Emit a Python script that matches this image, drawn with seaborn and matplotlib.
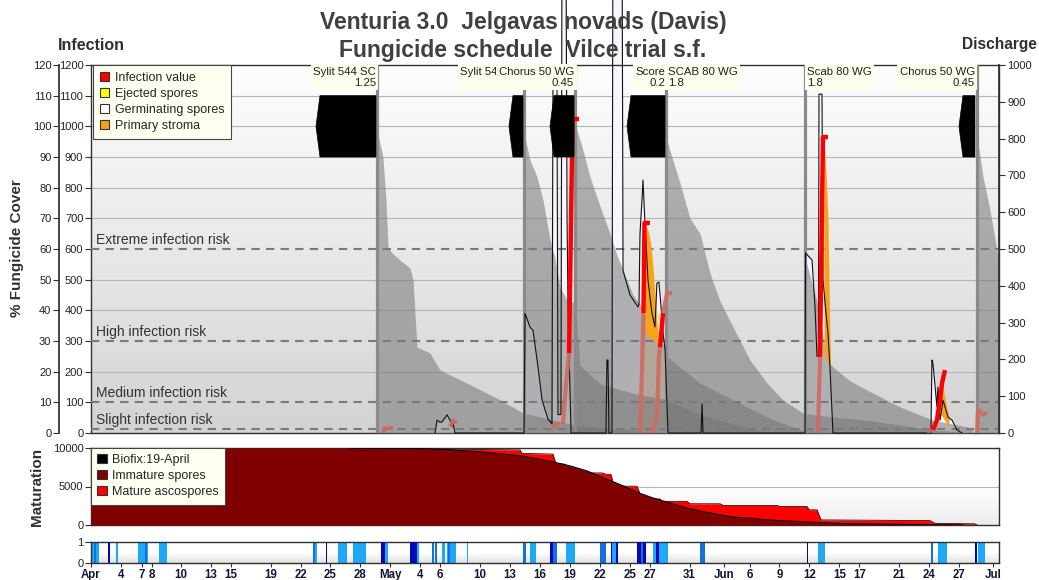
import numpy as np
import matplotlib
matplotlib.use('Agg')
import matplotlib.pyplot as plt
from matplotlib.patches import Patch, Polygon
from matplotlib.colors import LinearSegmentedColormap
import seaborn as sns

sns.set_theme(style='ticks')
plt.rcParams['font.family'] = ['Liberation Sans', 'DejaVu Sans']

# ---------------- data (x = days after 1 April) ----------------
tick_days = [0, 3, 5.1, 6.1, 9, 12, 14, 18, 21, 24, 27, 30, 33, 35, 39, 42, 45, 48, 51, 54, 56,
             60, 63.4, 66, 69, 72, 75, 77, 81, 84, 87, 90.4]
tick_labels = ['Apr', '4', '7', '8', '10', '13', '15', '19', '22', '25', '28', 'May', '4', '6', '10',
               '13', '16', '19', '22', '25', '27', '31', 'Jun', '6', '9', '12', '15', '17', '21',
               '24', '27', 'Jul']

spray_days = [28.66, 43.40, 48.51, 57.63, 71.56, 88.80]
label_texts = ['Sylit 544 SC\n1.25', 'Sylit 544 SC\n1.25', 'Chorus 50 WG\n0.45', 'Score\n0.2',
               'SCAB 80 WG\n1.8', 'Scab 80 WG\n1.8', 'Chorus 50 WG\n0.45']
label_days = [28.56, 43.30, 48.41, 57.53, 57.83, 71.76, 88.59]
label_align = ['right', 'right', 'right', 'right', 'left', 'left', 'right']
block_start = [22.55, 41.89, 46.00, 53.72, 86.99]
block_end = [28.56, 43.30, 48.41, 57.53, 88.59]

# fungicide cover (%) after each spray
cov1_d = [28.66, 29.26, 29.56, 29.77, 30.17, 30.97, 31.97, 32.27, 32.67, 33.97, 34.98, 37.68, 40.99, 43.30, 48.51, 56.02]
cov1_v = [98.8, 90.0, 76.0, 60.6, 58.7, 56.4, 53.8, 50.0, 28.0, 26.1, 20.5, 16.3, 10.8, 6.5, 2.6, 0.3]
cov2_d = [43.40, 44.00, 44.70, 45.30, 46.00, 46.50, 47.00, 47.71, 48.51, 49.01, 51.01, 54.32, 57.53, 61.04, 67.05]
cov2_v = [97.8, 89.0, 83.5, 76.0, 63.0, 57.0, 47.6, 43.4, 42.4, 22.0, 16.0, 13.0, 11.0, 6.0, 0.5]
cov3_d = [48.51, 48.71, 49.31, 50.01, 51.01, 52.01, 52.72, 53.32, 54.32, 55.02, 56.02, 57.53, 57.73, 61.04, 64.34, 67.75, 71.06, 74.06]
cov3_v = [99.0, 98.8, 92.2, 83.5, 74.0, 65.0, 58.0, 53.0, 45.0, 42.0, 35.0, 28.0, 24.8, 16.3, 10.8, 5.2, 1.0, 0.0]
cov4_d = [57.63, 57.73, 58.03, 59.03, 60.03, 61.04, 62.04, 63.04, 64.34, 66.04, 67.75, 69.35, 71.36, 74.36, 77.77, 81.08, 84.38, 87.79]
cov4_v = [96.0, 95.5, 92.0, 81.5, 70.0, 65.0, 52.0, 43.0, 34.6, 23.8, 16.3, 10.8, 6.5, 5.2, 4.2, 2.6, 1.0, 0.3]
cov5_d = [71.56, 71.66, 72.76, 73.76, 74.36, 76.07, 77.77, 81.08, 84.38, 88.39]
cov5_v = [57.0, 56.0, 43.0, 24.0, 21.5, 17.0, 14.0, 8.5, 4.2, 1.6]
cov6_d = [88.80, 89.40, 90.10, 90.90, 91.0]
cov6_v = [97.0, 83.5, 72.7, 57.4, 56.0]

# germinating spores
germ_d = [34.48, 34.68, 34.98, 35.18, 35.68, 35.98, 36.18, 36.28, 36.48,
          43.40, 43.50, 44.00, 44.30, 44.80, 45.20, 45.80, 46.20, 46.30, 46.70, 46.80, 47.10, 47.20, 47.61, 47.71, 47.81, 48.11,
          51.61, 51.71, 51.81, 51.91, 52.21, 52.31, 53.22, 53.32, 54.02, 54.82, 54.92, 55.02, 55.22, 55.32, 55.52, 55.82,
          56.22, 56.52, 56.72, 56.92, 57.13, 57.33, 57.53, 57.83,
          61.14, 61.24, 61.34,
          71.56, 71.61, 72.26, 72.56, 72.76, 72.91, 72.96, 73.26, 73.36, 73.66, 73.86, 74.06, 74.36,
          84.18, 84.28, 84.38, 84.78, 84.88, 85.09, 85.39, 85.89, 86.29, 86.79, 87.29]
germ_v = [0, 42, 35, 36, 59, 42, 20, 33, 0,
          0, 390, 345, 335, 215, 108, 45, 30, 1150, 1150, 60, 60, 1550, 1550, 700, 400, 0,
          0, 238, 238, 0, 0, 1700, 1700, 530, 450, 411, 420, 650, 760, 825, 685, 499,
          391, 346, 489, 492, 411, 326, 271, 0,
          0, 95, 0,
          0, 587, 564, 411, 250, 250, 1105, 1105, 500, 391, 326, 215, 0,
          0, 238, 228, 85, 150, 42, 107, 52, 42, 10, 0]

# ejected spores
eject_d = [55.02, 55.47, 56.02, 56.52, 57.03, 57.33, 57.53]
eject_v = [380, 450, 460, 420, 380, 330, 0]

# primary stroma (low / high)
stromaB_d = [55.52, 55.72, 55.92, 56.12, 56.32, 56.52, 56.72, 56.85]
stromaB_lo = [330, 320, 315, 310, 305, 300, 300, 300]
stromaB_hi = [672, 668, 650, 610, 540, 450, 360, 310]
stromaC_d = [73.46, 73.66, 73.86, 74.01, 74.11]
stromaC_lo = [260, 240, 230, 220, 215]
stromaC_hi = [950, 850, 700, 400, 230]
stromaD_d = [85.19, 85.39, 85.59, 85.79, 85.99]
stromaD_lo = [60, 50, 40, 30, 20]
stromaD_hi = [170, 150, 110, 80, 50]

# infection value
infA_d, infA_v = [47.91, 48.26, 48.91], [261, 1024, 1024]
infB1_d, infB1_v = [55.37, 55.47, 56.02], [391, 685, 685]
infB2_d, infB2_v = [57.03, 57.33], [280, 391]
infC_d, infC_v = [73.06, 73.36, 73.86], [248, 965, 965]
infD_d, infD_v = [84.38, 84.78, 85.09, 85.29, 85.59], [10, 42, 108, 163, 205]
old1_d, old1_v = [29.26, 29.46, 30.27], [0, 16, 16]
old2_d, old2_v = [35.98, 36.28, 36.68], [20, 40, 33]
old3_d, old3_v = [46.30, 46.60, 47.00], [15, 30, 30]
old4_d, old4_v = [47.30, 47.61, 47.91], [30, 160, 261]
old5_d, old5_v = [55.02, 55.22, 55.37], [0, 200, 391]
old6_d, old6_v = [56.22, 56.52, 56.72, 56.92, 57.03], [0, 40, 45, 250, 280]
old7_d, old7_v = [57.33, 57.73, 58.23], [391, 456, 456]
old8_d, old8_v = [72.86, 73.06], [0, 248]
old9_d, old9_v = [83.78, 84.38], [5, 10]
old10_d, old10_v = [88.80, 88.90, 89.40, 89.80], [0, 75, 60, 65]

risk_levels = [600, 300, 100, 12]
risk_names = ['Extreme infection risk', 'High infection risk', 'Medium infection risk', 'Slight infection risk']

# maturation
imm_d = [0, 25.96, 32.97, 35.68, 38.99, 42.99, 46.30, 48.01, 49.71, 51.31, 53.02, 54.72, 56.32, 58.03,
         59.73, 61.34, 63.04, 64.34, 66.04, 67.75, 71.06, 74.36, 77.77, 81.08, 84.38, 87.39]
imm_v = [10000, 10000, 9900, 9800, 9500, 9000, 8200, 7680, 7020, 6140, 5260, 4250, 3510, 2850,
         2190, 1750, 1320, 1030, 880, 660, 440, 220, 130, 80, 40, 0]
mat_d = [0, 32.97, 35.68, 42.99, 43.19, 46.30, 46.60, 47.50, 47.81, 51.31, 51.61, 52.11, 52.41, 54.72, 55.12,
         55.72, 56.02, 57.03, 57.23, 59.73, 60.03, 63.04, 63.34, 68.75, 69.05, 71.76, 71.96, 72.76,
         73.16, 84.08, 84.58, 88.59, 88.80]
mat_v = [10000, 9950, 9850, 9750, 9300, 9210, 7900, 7900, 6800, 6750, 6580, 6580, 5040, 5040, 3720,
         3720, 3380, 3380, 3070, 3070, 2760, 2760, 2540, 2540, 2410, 2410, 1970, 1970,
         660, 570, 220, 150, 0]

# leaf wetness periods
wet_light = [(0.00, 0.80), (2.51, 2.66), (4.71, 5.71), (6.81, 7.62), (22.25, 22.65), (24.75, 25.66),
             (26.26, 27.56), (29.46, 29.77), (32.67, 32.87), (35.18, 35.48), (35.68, 36.58), (37.68, 37.78),
             (44.00, 44.60), (47.61, 48.51), (52.11, 52.81), (56.32, 57.83), (72.86, 73.56),
             (84.88, 85.79), (88.90, 89.60)]
wet_mid = [(0.35, 0.55), (5.41, 5.61), (22.25, 22.40), (34.18, 34.38), (34.48, 34.68), (35.78, 35.93),
           (43.30, 43.60), (46.30, 46.70), (51.01, 51.61), (55.12, 55.32), (61.04, 61.54), (84.18, 84.38)]
wet_dark = [(1.70, 1.90), (23.55, 23.70), (29.06, 29.46), (31.97, 32.67), (46.00, 46.30), (52.11, 52.26),
            (52.61, 52.81), (54.72, 55.12), (55.32, 55.62), (56.62, 56.92), (71.76, 71.86), (88.59, 88.80)]

# ---------------- figure ----------------
fig = plt.figure(figsize=(10.39, 5.80), dpi=100)
L, W = 91 / 1039, 908 / 1039
ax = fig.add_axes([L, 147 / 580, W, 368 / 580])
ax_m = fig.add_axes([L, 55 / 580, W, 77 / 580])
ax_w = fig.add_axes([L, 16.7 / 580, W, 21.6 / 580])

TXT = '#222222'
SP = '#303030'

# background gradient
bg = LinearSegmentedColormap.from_list('bg', ['#d3d3d3', '#fefefe'])
ax.imshow(np.linspace(0, 1, 256).reshape(-1, 1), extent=[0, 91, 0, 1200], origin='lower',
          cmap=bg, aspect='auto', zorder=0)

for lev in range(200, 1200, 100):
    if lev not in (300, 600):
        ax.axhline(lev, color='#b5b5b5', lw=0.8, zorder=1)

# germinating fill and ejected spores (beneath cover)
ax.fill_between(germ_d, 0, germ_v, color='#f7f5fd', lw=0, zorder=2, clip_on=False)
ax.fill_between(eject_d, 0, eject_v, color='#fde3c8', lw=0, zorder=2.5)

# fungicide cover on % scale
ax_pct = ax.twinx()
for cd, cv in [(cov1_d, cov1_v), (cov2_d, cov2_v), (cov3_d, cov3_v), (cov4_d, cov4_v),
               (cov5_d, cov5_v), (cov6_d, cov6_v)]:
    ax.fill_between(cd, 0, cv, color='#767676', alpha=0.55, lw=0, zorder=3,
                    transform=ax_pct.transData)

for lev, nm in zip(risk_levels, risk_names):
    ax.axhline(lev, color='#7a7a7a', lw=1.5, dashes=(4, 3), zorder=3.5)
    ax.text(0.5, lev + 6, nm, fontsize=10, color='#333333', va='bottom', ha='left', zorder=3.6)

for sd in spray_days:
    ax.axvline(sd, color='#8a8a8a', lw=2.3, zorder=4)

for sd_, lo, hi in [(stromaB_d, stromaB_lo, stromaB_hi), (stromaC_d, stromaC_lo, stromaC_hi),
                    (stromaD_d, stromaD_lo, stromaD_hi)]:
    ax.fill_between(sd_, lo, hi, color='#f5a318', lw=0, zorder=4.4)

sns.lineplot(x=germ_d, y=germ_v, ax=ax, color='#111111', lw=0.8, sort=False, estimator=None,
             zorder=4.5, clip_on=False)

for od, ov in [(old1_d, old1_v), (old2_d, old2_v), (old3_d, old3_v), (old4_d, old4_v), (old5_d, old5_v),
               (old6_d, old6_v), (old7_d, old7_v), (old8_d, old8_v), (old9_d, old9_v), (old10_d, old10_v)]:
    sns.lineplot(x=od, y=ov, ax=ax, color='#cf6a62', lw=3.0, sort=False, estimator=None, zorder=4.8,
                 alpha=0.9, solid_capstyle='butt')
for idd, iv in [(infA_d, infA_v), (infB1_d, infB1_v), (infB2_d, infB2_v), (infC_d, infC_v), (infD_d, infD_v)]:
    sns.lineplot(x=idd, y=iv, ax=ax, color='#ff0000', lw=3.2, sort=False, estimator=None, zorder=5,
                 solid_capstyle='butt')

for s, e in zip(block_start, block_end):
    ax.add_patch(Polygon([(s, 1000), (s + 0.4, 1100), (e, 1100), (e, 900), (s + 0.4, 900)],
                         closed=True, fc='black', ec='black', lw=0.5, zorder=6))

for d, t, al in zip(label_days, label_texts, label_align):
    ax.text(d, 1195, t, ha=al, va='top', fontsize=8.2, color='#202020', multialignment=al,
            linespacing=1.15, zorder=7,
            bbox=dict(boxstyle='square,pad=0.22', fc='#fdfdee', ec='none'))

ax.set_xlim(0, 91)
ax.set_ylim(0, 1200)
ax.set_yticks(range(0, 1201, 100))
ax.tick_params(axis='y', direction='out', length=4, width=0.8, labelsize=8, pad=1.5, colors=SP,
               labelcolor=TXT)
ax.tick_params(axis='x', bottom=False, labelbottom=False)
for sp in ax.spines.values():
    sp.set_color(SP)
    sp.set_linewidth(1.0)

ax_pct.set_ylim(0, 120)
ax_pct.yaxis.set_ticks_position('left')
ax_pct.yaxis.set_label_position('left')
ax_pct.spines['left'].set_position(('outward', 23))
ax_pct.spines['left'].set_visible(True)
ax_pct.spines['left'].set_color(SP)
for k in ('right', 'top', 'bottom'):
    ax_pct.spines[k].set_visible(False)
ax_pct.set_yticks(range(0, 121, 10))
ax_pct.tick_params(axis='y', direction='out', length=4, width=0.8, labelsize=8, pad=1.5, colors=SP,
                   labelcolor=TXT)

ax_dis = ax.twinx()
ax_dis.set_ylim(0, 1000)
ax_dis.set_yticks(range(0, 1001, 100))
for k in ('left', 'top', 'bottom'):
    ax_dis.spines[k].set_visible(False)
ax_dis.spines['right'].set_color(SP)
ax_dis.tick_params(axis='y', direction='out', length=4, width=0.8, labelsize=8, pad=2, colors=SP,
                   labelcolor=TXT)

leg1 = ax.legend(handles=[Patch(fc='#ff0000', ec='#333333', lw=0.8, label='Infection value'),
                          Patch(fc='#ffff00', ec='#333333', lw=0.8, label='Ejected spores'),
                          Patch(fc='#ffffff', ec='#333333', lw=0.8, label='Germinating spores'),
                          Patch(fc='#f5a318', ec='#333333', lw=0.8, label='Primary stroma')],
                 loc='upper left', bbox_to_anchor=(0.002, 1.0), borderaxespad=0, fontsize=9,
                 handlelength=0.75, handleheight=0.75, handletextpad=0.45, labelspacing=0.32,
                 borderpad=0.55, fancybox=False, framealpha=1, facecolor='#fffff2', edgecolor='#444444')
leg1.set_zorder(10)
leg1.get_frame().set_linewidth(0.8)

# ---------------- maturation ----------------
bgm = LinearSegmentedColormap.from_list('bgm', ['#ececec', '#ffffff', '#ffffff'])
ax_m.imshow(np.linspace(0, 1, 256).reshape(-1, 1), extent=[0, 91, 0, 10000], origin='lower',
            cmap=bgm, aspect='auto', zorder=0)
ax_m.axhline(5000, color='#b5b5b5', lw=0.8, zorder=1)
ax_m.fill_between(mat_d, 0, mat_v, color='#ff0000', lw=0, zorder=2)
sns.lineplot(x=mat_d, y=mat_v, ax=ax_m, color='#3a0000', lw=0.6, sort=False, estimator=None, zorder=2.5)
ax_m.fill_between(imm_d, 0, imm_v, color='#800000', lw=0, zorder=3)
sns.lineplot(x=imm_d[1:], y=imm_v[1:], ax=ax_m, color='#000000', lw=0.8, sort=False, estimator=None,
             zorder=3.5)
ax_m.set_xlim(0, 91)
ax_m.set_ylim(0, 10000)
ax_m.set_yticks([0, 5000, 10000])
ax_m.tick_params(axis='y', direction='out', length=4, width=0.8, labelsize=8, pad=1.5, colors=SP,
                 labelcolor=TXT)
ax_m.tick_params(axis='x', bottom=False, labelbottom=False)
for sp in ax_m.spines.values():
    sp.set_color(SP)
    sp.set_linewidth(1.0)
leg2 = ax_m.legend(handles=[Patch(fc='#000000', ec='#333333', lw=0.8, label='Biofix:19-April'),
                            Patch(fc='#800000', ec='#333333', lw=0.8, label='Immature spores'),
                            Patch(fc='#ff0000', ec='#333333', lw=0.8, label='Mature ascospores')],
                   loc='upper left', bbox_to_anchor=(0.0, 1.0), borderaxespad=0, fontsize=9,
                   handlelength=0.75, handleheight=0.75, handletextpad=0.45, labelspacing=0.32,
                   borderpad=0.5, fancybox=False, framealpha=1, facecolor='#fffff2', edgecolor='#444444')
leg2.set_zorder(10)
leg2.get_frame().set_linewidth(0.8)

# ---------------- wetness strip ----------------
bgw = LinearSegmentedColormap.from_list('bgw', ['#e2e2e2', '#ffffff', '#ffffff'])
ax_w.imshow(np.linspace(0, 1, 256).reshape(-1, 1), extent=[0, 91, 0, 1], origin='lower',
            cmap=bgw, aspect='auto', zorder=0)
for periods, col, z in [(wet_light, '#1ea8f5', 1), (wet_mid, '#1470dc', 2), (wet_dark, '#0008b8', 3)]:
    for s, e in periods:
        ax_w.axvspan(s, e, color=col, lw=0, zorder=z)
ax_w.set_xlim(0, 91)
ax_w.set_ylim(0, 1)
ax_w.set_yticks([0, 1])
ax_w.set_xticks(tick_days)
ax_w.set_xticklabels(tick_labels, fontweight='bold', fontsize=8.3, color='#14143a')
ax_w.tick_params(axis='y', direction='out', length=4, width=0.8, labelsize=8, pad=1.5, colors=SP,
                 labelcolor=TXT)
ax_w.tick_params(axis='x', direction='out', length=3, width=0.8, pad=1, colors=SP,
                 labelcolor='#14143a')
for sp in ax_w.spines.values():
    sp.set_color(SP)
    sp.set_linewidth(1.0)

# ---------------- texts ----------------
fig.text(523 / 1039, 1 - 22 / 580, 'Venturia 3.0  Jelgavas novads (Davis)', ha='center', va='center',
         fontsize=16.5, fontweight='bold', color='#404040')
fig.text(523 / 1039, 1 - 50 / 580, 'Fungicide schedule  Vilce trial s.f.', ha='center', va='center',
         fontsize=16.5, fontweight='bold', color='#404040')
fig.text(58 / 1039, 1 - 45 / 580, 'Infection', ha='left', va='center', fontsize=11.5,
         fontweight='bold', color='#303030')
fig.text(1037 / 1039, 1 - 45 / 580, 'Discharge', ha='right', va='center', fontsize=11.2,
         fontweight='bold', color='#303030')
fig.text(17 / 1039, 1 - 248 / 580, '% Fungicide Cover', ha='center', va='center', rotation=90,
         fontsize=11, fontweight='bold', color='#303030')
fig.text(37 / 1039, 1 - 487 / 580, 'Maturation', ha='center', va='center', rotation=90,
         fontsize=11, fontweight='bold', color='#303030')

fig.savefig('out.png', dpi=100, facecolor='white')
